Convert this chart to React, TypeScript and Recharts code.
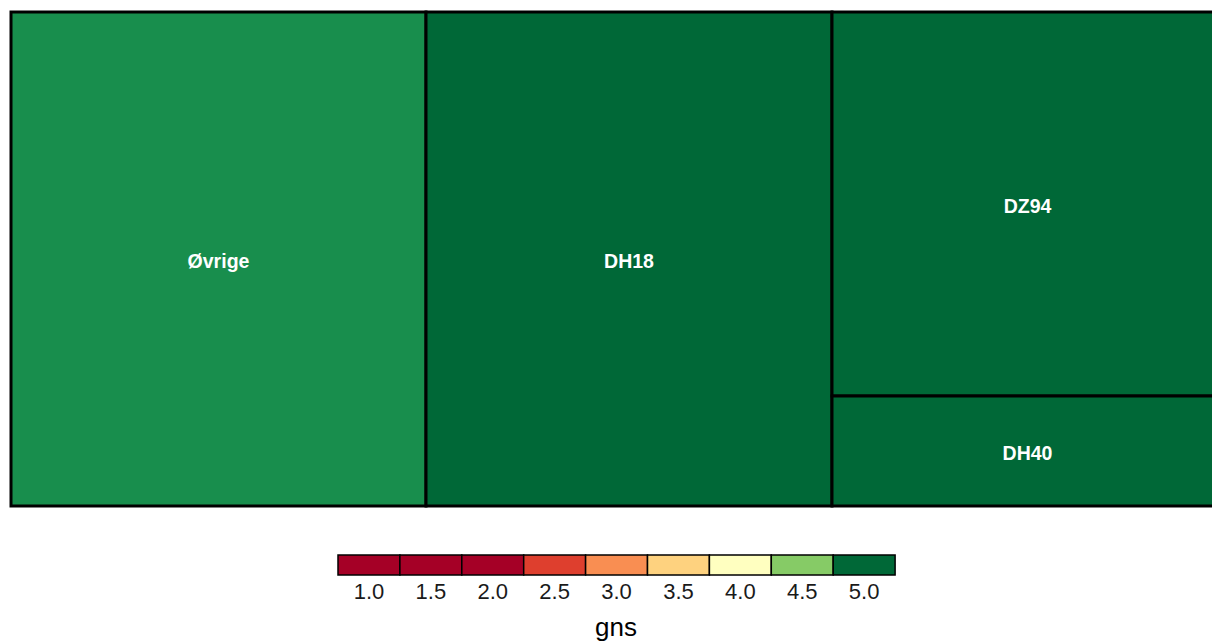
import React from 'react';
import { Treemap } from 'recharts';

const names = ['Øvrige', 'DH18', 'DZ94', 'DH40'];
const sizes = [34.2, 33.5, 25.1, 7.2];
const fills = ['#188E4D', '#006837', '#006837', '#006837'];

const legendTicks = ['1.0', '1.5', '2.0', '2.5', '3.0', '3.5', '4.0', '4.5', '5.0'];
const legendColors = ['#A50026', '#A50026', '#A50026', '#DE3F2E', '#F98E52', '#FED27F', '#FFFFC0', '#86CB66', '#006837'];
const legendTitle = 'gns';

const data = names.map((name, i) => ({ name, size: sizes[i], color: fills[i] }));

const Cell = (props: any) => {
  const { x, y, width, height, depth, name, color } = props;
  if (depth !== 1) return null;
  return (
    <g>
      <rect x={x} y={y} width={width} height={height} fill={color} stroke="#000" strokeWidth={3} />
      <text
        x={x + width / 2}
        y={y + height / 2 + 8.5}
        textAnchor="middle"
        fill="#fff"
        stroke="none"
        fontFamily="Liberation Sans, Arial, sans-serif"
        fontWeight="bold"
        fontSize={19.5}
      >
        {name}
      </text>
    </g>
  );
};

export default function App() {
  const boxX0 = 338;
  const boxW = 61.9;
  const boxY = 555;
  const boxH = 20;
  return (
    <div style={{ position: 'fixed', left: 0, top: 0, width: 1212, height: 643, overflow: 'hidden', background: '#fff' }}>
      <style>{`.recharts-surface{overflow:visible}`}</style>
      <div style={{ position: 'absolute', left: 10.5, top: 11.5 }}>
        <Treemap
          width={1212}
          height={494}
          data={data}
          dataKey="size"
          nameKey="name"
          isAnimationActive={false}
          content={<Cell />}
        />
      </div>
      <svg width={1212} height={643} style={{ position: 'absolute', left: 0, top: 0, pointerEvents: 'none' }}>
        {legendColors.map((c, i) => (
          <rect key={i} x={boxX0 + i * boxW} y={boxY} width={boxW} height={boxH} fill={c} stroke="#000" strokeWidth={1.5} />
        ))}
        {legendTicks.map((t, i) => (
          <text
            key={t}
            x={boxX0 + i * boxW + boxW / 2}
            y={598.5}
            textAnchor="middle"
            fontFamily="Liberation Sans, Arial, sans-serif"
            fontSize={22}
            fill="#1a1a1a"
          >
            {t}
          </text>
        ))}
        <text x={616} y={636} textAnchor="middle" fontFamily="Liberation Sans, Arial, sans-serif" fontSize={26} fill="#000">
          {legendTitle}
        </text>
      </svg>
    </div>
  );
}
